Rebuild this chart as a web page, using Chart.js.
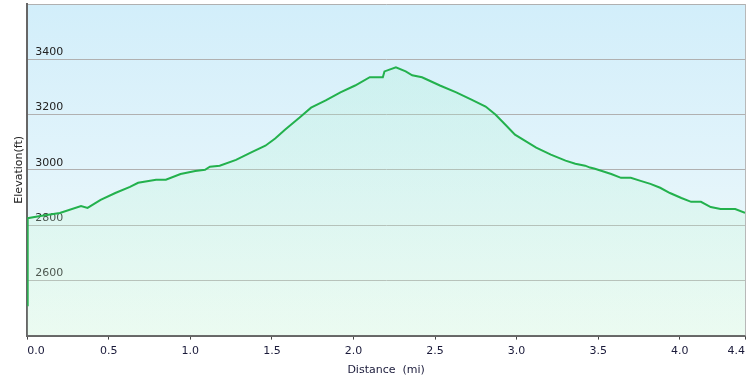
<!DOCTYPE html>
<html>
<head>
<meta charset="utf-8">
<script src="https://cdn.jsdelivr.net/npm/chart.js@4/dist/chart.umd.min.js"></script>
<style>
  html, body { margin: 0; padding: 0; background: #fff; }
  #wrap { width: 753px; height: 382px; }
</style>
</head>
<body>
<div id="wrap"><canvas id="elevChart"></canvas></div>
<script>
// distance along the trail (mi) and elevation (ft)
var distances = [0.0, 0.003, 0.08, 0.2, 0.33, 0.37, 0.45, 0.54, 0.63, 0.68, 0.79, 0.85, 0.94, 1.03, 1.09, 1.12, 1.18, 1.28, 1.37, 1.46, 1.52, 1.58, 1.67, 1.74, 1.83, 1.92, 2.01, 2.10, 2.18, 2.19, 2.26, 2.32, 2.36, 2.42, 2.46, 2.53, 2.63, 2.72, 2.81, 2.87, 2.93, 2.99, 3.06, 3.12, 3.21, 3.30, 3.36, 3.42, 3.45, 3.48, 3.58, 3.64, 3.70, 3.76, 3.82, 3.88, 3.94, 4.01, 4.07, 4.13, 4.19, 4.25, 4.34, 4.40];
var elevations = [2510, 2825, 2833, 2844, 2869, 2862, 2891, 2916, 2938, 2953, 2964, 2964, 2985, 2996, 3000, 3011, 3015, 3036, 3062, 3087, 3113, 3145, 3189, 3225, 3251, 3280, 3305, 3335, 3335, 3356, 3371, 3356, 3342, 3335, 3324, 3305, 3280, 3255, 3229, 3200, 3164, 3127, 3102, 3080, 3055, 3033, 3022, 3015, 3008, 3004, 2985, 2971, 2971, 2960, 2949, 2935, 2916, 2898, 2884, 2884, 2865, 2858, 2858, 2844];
var xTicks = [0, 0.5, 1, 1.5, 2, 2.5, 3, 3.5, 4, 4.4];
var yTicks = [2400, 2600, 2800, 3000, 3200, 3400, 3600];

var points = distances.map(function(d, i) { return {x: d, y: elevations[i]}; });

// sky-ish background + right border of the plot
var plotBg = {
    id: 'plotBg',
    beforeDraw: function(chart) {
        var a = chart.chartArea, ctx = chart.ctx;
        var g = ctx.createLinearGradient(0, a.top, 0, a.bottom);
        g.addColorStop(0, '#d2eefa');
        g.addColorStop(0.5, '#e2f4fb');
        g.addColorStop(1, '#f2fbf8');
        ctx.save();
        ctx.fillStyle = g;
        ctx.fillRect(a.left, a.top, a.right - a.left, a.bottom - a.top);
        ctx.restore();
    },
    afterDraw: function(chart) {
        var a = chart.chartArea, ctx = chart.ctx;
        ctx.save();
        ctx.strokeStyle = '#b8b8b8';
        ctx.lineWidth = 1;
        ctx.beginPath();
        ctx.moveTo(a.right + 0.5, a.top);
        ctx.lineTo(a.right + 0.5, a.bottom);
        ctx.stroke();
        ctx.restore();
    }
};

Chart.defaults.font.family = '"DejaVu Sans", Verdana, sans-serif';
Chart.defaults.font.size = 11;

var ctx = document.getElementById('elevChart').getContext('2d');
new Chart(ctx, {
    type: 'line',
    data: {
        datasets: [{
            data: points,
            borderColor: '#23b14d',
            borderWidth: 2,
            pointRadius: 0,
            tension: 0,
            fill: 'start',
            backgroundColor: function(c) {
                var a = c.chart.chartArea;
                if (!a) return 'rgba(170,240,200,0.2)';
                var g = c.chart.ctx.createLinearGradient(0, a.top, 0, a.bottom);
                g.addColorStop(0, 'rgba(160,240,205,0.25)');
                g.addColorStop(1, 'rgba(215,250,220,0.25)');
                return g;
            }
        }]
    },
    options: {
        responsive: true,
        maintainAspectRatio: false,
        animation: false,
        layout: { padding: { left: 0, top: 4, right: 8, bottom: 5 } },
        plugins: { legend: { display: false }, tooltip: { enabled: false } },
        scales: {
            x: {
                type: 'linear',
                min: 0,
                max: 4.4,
                afterBuildTicks: function(axis) {
                    axis.ticks = xTicks.map(function(v) { return {value: v}; });
                },
                ticks: {
                    align: 'inner',
                    padding: 5,
                    color: '#1a1a3a',
                    callback: function(v) { return Number(v).toFixed(1); }
                },
                grid: { drawOnChartArea: false, drawTicks: true, tickLength: 4, color: '#444' },
                border: { color: '#666', width: 2 },
                title: { display: true, text: 'Distance  (mi)', color: '#1a1a3a', padding: { top: 1, bottom: 0 } }
            },
            y: {
                min: 2400,
                max: 3600,
                afterBuildTicks: function(axis) {
                    axis.ticks = yTicks.map(function(v) { return {value: v}; });
                },
                afterFit: function(axis) {
                    // labels sit inside the plot, no need for room above/below
                    axis.paddingTop = 0;
                    axis.paddingBottom = 0;
                },
                ticks: {
                    mirror: true,
                    padding: 8,
                    labelOffset: -7,
                    color: '#222',
                    callback: function(v) { return (v === 2400 || v === 3600) ? '' : v; }
                },
                grid: { drawTicks: false, color: '#b0b0b0' },
                border: { color: '#666', width: 2 },
                title: { display: true, text: 'Elevation(ft)', color: '#222', padding: { top: 13, bottom: -15 } }
            }
        }
    },
    plugins: [plotBg]
});
</script>
</body>
</html>
